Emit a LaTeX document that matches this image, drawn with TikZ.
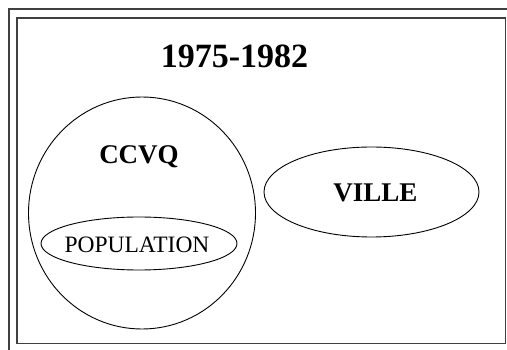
\documentclass[tikz,border=0pt]{standalone}
\usepackage{fontspec}
\setmainfont{Liberation Serif}
\usetikzlibrary{shapes.geometric}
\begin{document}
\begin{tikzpicture}[x=1pt,y=-1pt,
  frame/.style={draw=black!75,line width=1.3pt},
  ovalbox/.style={draw=black,line width=0.9pt,ellipse,inner sep=0pt},
  lbl/.style={inner sep=0pt,anchor=center}]
\useasboundingbox (0,0) rectangle (507,350);
\fill[white] (0,0) rectangle (507,350);
\begin{scope}
\clip (0,0) rectangle (507,350);
\draw[frame] (9,9) rectangle (530,370);
\draw[frame] (17,18) rectangle (505.5,343.5);
\end{scope}
\node[lbl,font=\fontsize{34}{34}\selectfont\bfseries] (title) at (234.5,56) {1975-1982};
\node[ovalbox,minimum width=227pt,minimum height=232pt] (ccvq) at (142,213) {};
\node[lbl,font=\fontsize{27}{27}\selectfont\bfseries] (ccvqt) at (139,157) {CCVQ};
\node[ovalbox,minimum width=196pt,minimum height=53pt] (pop) at (139,243.5) {};
\node[lbl,font=\fontsize{23.5}{23.5}\selectfont] (popt) at (137,244.5) {POPULATION};
\node[ovalbox,minimum width=215pt,minimum height=90pt] (ville) at (371.5,192) {};
\node[lbl,font=\fontsize{27}{27}\selectfont\bfseries] (villet) at (375.5,193) {VILLE};
\end{tikzpicture}
\end{document}
